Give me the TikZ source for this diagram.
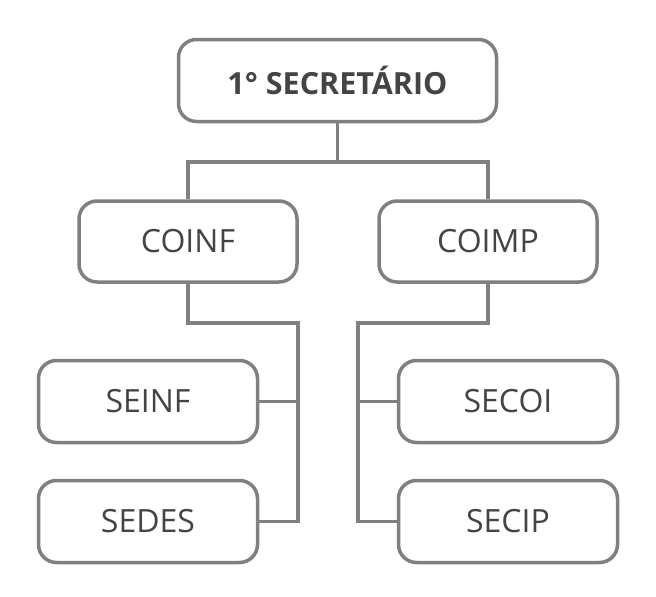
\documentclass[tikz,border=0pt]{standalone}
\usepackage{fontspec}
\setmainfont{Open Sans}
\definecolor{linegray}{HTML}{808080}
\definecolor{textgray}{HTML}{444444}
\tikzset{
  orgbox/.style={draw=linegray, line width=3.5pt, rounded corners=18pt, fill=white,
    text=textgray, font=\fontsize{32}{38}\selectfont, inner sep=0pt, anchor=center},
  wire/.style={draw=linegray, line width=3.5pt},
}
\begin{document}
\begin{tikzpicture}[x=1pt,y=-1pt]
\useasboundingbox (0,0) rectangle (656,597);
\node[orgbox, minimum width=318pt, minimum height=82pt, font=\fontsize{30.5}{36}\selectfont\bfseries] (top) at (337.5,80.5) {1° SECRETÁRIO};
\node[orgbox, minimum width=218pt, minimum height=81pt] (coinf) at (188,241.5) {COINF};
\node[orgbox, minimum width=218pt, minimum height=81pt] (coimp) at (488,241.5) {COIMP};
\node[orgbox, minimum width=219pt, minimum height=82pt] (seinf) at (148,401.5) {SEINF};
\node[orgbox, minimum width=219pt, minimum height=82pt] (sedes) at (148,521.5) {SEDES};
\node[orgbox, minimum width=219pt, minimum height=82pt] (secoi) at (508,401.5) {SECOI};
\node[orgbox, minimum width=219pt, minimum height=82pt] (secip) at (508,521.5) {SECIP};
\coordinate (j1) at (337.5,162);
\coordinate (jl) at (298,323);
\coordinate (jr) at (358,323);
\draw[wire] (top.south) -- (j1);
\draw[wire] (coinf.north) |- (j1) -| (coimp.north);
\draw[wire] (coinf.south) |- (jl) |- (sedes.east);
\draw[wire] (seinf.east) -- (seinf.east -| jl);
\draw[wire] (coimp.south) |- (jr) |- (secip.west);
\draw[wire] (secoi.west) -- (secoi.west -| jr);
\end{tikzpicture}
\end{document}
